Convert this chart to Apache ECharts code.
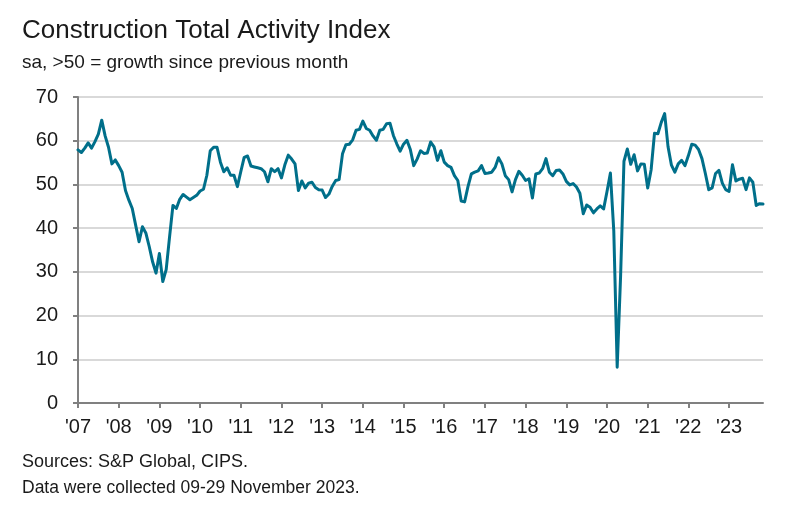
<!DOCTYPE html>
<html>
<head>
<meta charset="utf-8">
<script src="https://cdn.jsdelivr.net/npm/echarts@6/dist/echarts.min.js"></script>
<style>
html,body{margin:0;padding:0;background:#fff;}
#c{width:789px;height:508px;}
</style>
</head>
<body>
<div id="c"></div>
<script>
// Monthly index values, Jan 2007 – Nov 2023
var v2007 = [57.9,57.3,58.3,59.5,58.3,59.8,61.5,64.7,61.1,58.5,54.7,55.6];
var v2008 = [54.3,52.8,48.6,46.4,44.5,40.7,36.9,40.3,38.9,35.8,32.3,29.7];
var v2009 = [34.2,27.8,30.5,38.0,45.2,44.5,46.6,47.7,47.1,46.5,47.0,47.5];
var v2010 = [48.5,48.9,52.1,57.7,58.5,58.5,55.1,52.9,53.8,52.1,52.1,49.5];
var v2011 = [52.9,56.2,56.5,54.2,54.0,53.8,53.6,52.9,50.6,53.6,52.9,53.6];
var v2012 = [51.5,54.5,56.7,55.8,54.7,48.6,50.8,49.2,50.3,50.5,49.3,48.8];
var v2013 = [48.7,47.0,47.8,49.6,50.9,51.1,57.0,59.1,59.2,60.2,62.4,62.6];
var v2014 = [64.5,62.8,62.4,61.1,60.1,62.4,62.6,63.9,64.0,61.2,59.3,57.6];
var v2015 = [59.2,60.1,58.0,54.3,55.8,57.7,57.1,57.2,59.7,58.6,55.5,57.7];
var v2016 = [55.1,54.3,53.9,52.0,50.9,46.2,46.0,49.5,52.4,52.8,53.1,54.3];
var v2017 = [52.5,52.6,52.8,53.9,56.1,54.7,52.0,51.1,48.3,51.1,53.0,52.1];
var v2018 = [50.9,51.3,46.9,52.4,52.6,53.6,55.9,52.8,52.0,53.2,53.3,52.4];
var v2019 = [50.7,49.9,50.2,49.4,48.0,43.3,45.3,44.8,43.5,44.4,45.1,44.4];
var v2020 = [48.4,52.6,39.3,8.2,28.9,55.3,58.1,54.6,56.8,53.1,54.7,54.6];
var v2021 = [49.2,53.3,61.7,61.6,64.2,66.2,58.6,54.4,52.8,54.7,55.5,54.3];
var v2022 = [56.6,59.2,59.0,58.0,55.9,52.5,48.8,49.2,52.5,53.2,50.3,48.8];
var v2023 = [48.4,54.5,50.8,51.2,51.4,48.8,51.5,50.5,45.2,45.6,45.5];

var yearLabels = ["'07","'08","'09","'10","'11","'12","'13","'14","'15","'16","'17","'18","'19","'20","'21","'22","'23"];
var startYear = 2007;

var values = [].concat(v2007,v2008,v2009,v2010,v2011,v2012,v2013,v2014,v2015,v2016,v2017,v2018,v2019,v2020,v2021,v2022,v2023);
var months = values.map(function(_, i){
  var y = startYear + Math.floor(i/12), m = i % 12 + 1;
  return y + '-' + (m < 10 ? '0' + m : m);
});

var FONT = '"Liberation Sans", Arial, sans-serif';
var chart = echarts.init(document.getElementById('c'), null, {renderer:'canvas'});
chart.setOption({
  animation:false,
  backgroundColor:'#ffffff',
  textStyle:{fontFamily:FONT},
  title:[
    {text:'Construction Total Activity Index', left:22, top:18, padding:0,
     textStyle:{fontSize:26, fontWeight:'normal', color:'#1a1a1a', fontFamily:FONT}},
    {text:'sa, >50 = growth since previous month', left:22, top:53, padding:0,
     textStyle:{fontSize:19, fontWeight:'normal', color:'#1a1a1a', fontFamily:FONT}}
  ],
  grid:{left:78, right:26, top:97, bottom:105},
  xAxis:{
    type:'category', data:months, boundaryGap:false,
    axisLine:{lineStyle:{color:'#808080', width:2}},
    axisTick:{show:true, length:5, lineStyle:{color:'#808080', width:2},
      interval:function(i){return i % 12 === 0;}},
    axisLabel:{margin:14, fontSize:20, color:'#1a1a1a', fontFamily:FONT,
      interval:function(i){return i % 12 === 0;},
      formatter:function(v, i){return yearLabels[Math.floor(i/12)];}},
    splitLine:{show:false}
  },
  yAxis:{
    type:'value', min:0, max:70, interval:10,
    axisLine:{show:true, lineStyle:{color:'#808080', width:2}},
    axisTick:{show:true, length:5, lineStyle:{color:'#808080', width:2}},
    axisLabel:{margin:20, fontSize:20, color:'#1a1a1a', fontFamily:FONT},
    splitLine:{lineStyle:{color:'#d9d9d9', width:2}}
  },
  series:[{
    type:'line', data:values, symbol:'none', smooth:false,
    lineStyle:{color:'#006f8a', width:3, join:'round', cap:'round'}
  }],
  graphic:[
    {type:'text', left:22, top:453, style:{text:'Sources: S&P Global, CIPS.', font:'18px ' + FONT, fill:'#1a1a1a'}},
    {type:'text', left:22, top:479, style:{text:'Data were collected 09-29 November 2023.', font:'17.5px ' + FONT, fill:'#1a1a1a'}}
  ]
});
</script>
</body>
</html>
